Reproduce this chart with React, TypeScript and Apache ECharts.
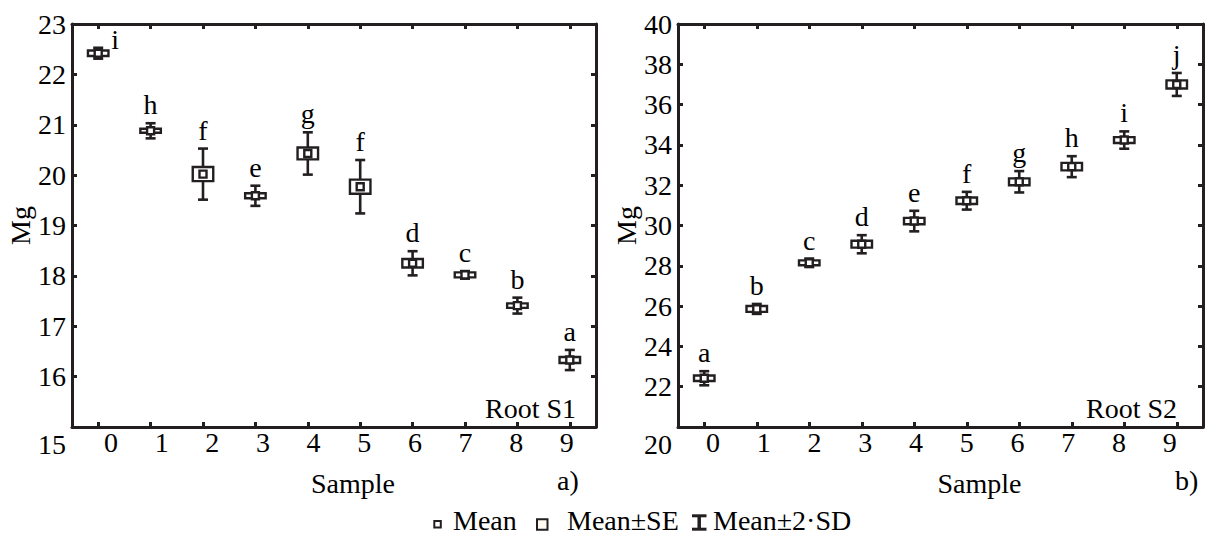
import React, { useEffect, useRef } from 'react';
import * as echarts from 'echarts';

// ---------- data ----------
const SAMPLES = ['0', '1', '2', '3', '4', '5', '6', '7', '8', '9'];

// Root S1
const S1_MEAN = [22.42, 20.88, 20.02, 19.59, 20.43, 19.77, 18.25, 18.02, 17.41, 16.33];
const S1_SE = [0.055, 0.04, 0.14, 0.05, 0.118, 0.14, 0.084, 0.05, 0.045, 0.06];
const S1_SD2 = [0.108, 0.15, 0.507, 0.2, 0.42, 0.53, 0.24, 0.075, 0.158, 0.2];
const S1_LETTERS = ['i', 'h', 'f', 'e', 'g', 'f', 'd', 'c', 'b', 'a'];
const S1_Y_MIN = 15;
const S1_Y_MAX = 23;
const S1_Y_STEP = 1;

// Root S2
const S2_MEAN = [22.42, 25.86, 28.15, 29.07, 30.22, 31.23, 32.17, 32.92, 34.24, 37.0];
const S2_SE = [0.136, 0.146, 0.12, 0.17, 0.16, 0.16, 0.17, 0.186, 0.146, 0.2];
const S2_SD2 = [0.35, 0.246, 0.21, 0.45, 0.51, 0.44, 0.53, 0.52, 0.43, 0.57];
const S2_LETTERS = ['a', 'b', 'c', 'd', 'e', 'f', 'g', 'h', 'i', 'j'];
const S2_Y_MIN = 20;
const S2_Y_MAX = 40;
const S2_Y_STEP = 2;

// ---------- style ----------
const FONT = '"Liberation Serif", "Times New Roman", serif';
const FS = 28;
const INK = '#231f20';
const TXT = '#000000';

function makeRender(letters: string[]) {
  return (params: any, api: any) => {
    const i = api.value(0) as number;
    const m = api.value(1) as number;
    const s = api.value(2) as number;
    const d = api.value(3) as number;
    const c = api.coord([i, m]);
    const cx = c[0];
    const cy = c[1];
    const yTop = api.coord([i, m + d])[1];
    const yBot = api.coord([i, m - d])[1];
    const seTop = api.coord([i, m + s])[1];
    const seBot = api.coord([i, m - s])[1];
    const gridTop = params.coordSys.y;
    const ls = { stroke: INK, lineWidth: 2.6 };
    const bw = 20.5;
    const cw = 10;
    const ms = 7;
    const above = yTop - 36 > gridTop;
    return {
      type: 'group',
      children: [
        { type: 'line', shape: { x1: cx, y1: yTop, x2: cx, y2: yBot }, style: ls },
        { type: 'line', shape: { x1: cx - cw / 2, y1: yTop, x2: cx + cw / 2, y2: yTop }, style: ls },
        { type: 'line', shape: { x1: cx - cw / 2, y1: yBot, x2: cx + cw / 2, y2: yBot }, style: ls },
        {
          type: 'rect',
          shape: { x: cx - bw / 2, y: seTop, width: bw, height: Math.max(seBot - seTop, 0.5) },
          style: { fill: '#ffffff', stroke: INK, lineWidth: 2.4 },
        },
        {
          type: 'rect',
          shape: { x: cx - ms / 2, y: cy - ms / 2, width: ms, height: ms },
          style: { fill: '#ffffff', stroke: INK, lineWidth: 2.4 },
        },
        {
          type: 'text',
          x: above ? cx : cx + 13,
          y: above ? yTop - 4.5 : yTop + 5.5,
          style: {
            text: letters[i],
            fontFamily: FONT,
            fontSize: FS,
            fill: TXT,
            align: above ? 'center' : 'left',
            verticalAlign: 'bottom',
          },
        },
      ],
    };
  };
}

function buildData(mean: number[], se: number[], sd2: number[]) {
  return mean.map((v, i) => [i, v, se[i], sd2[i]]);
}

const axisLineStyle = { lineStyle: { color: INK, width: 3 } };
const tickStyle = { show: true, inside: true, length: 5, lineStyle: { color: INK, width: 3 } };
const labelText = { fontFamily: FONT, fontSize: FS, color: TXT };

// the sample labels sit on a slightly narrower pitch than the ticks
function driftRich(start: number, perStep: number) {
  const rich: any = {};
  SAMPLES.forEach((_, k) => {
    const d = start + perStep * k;
    rich['s' + k] = {
      fontFamily: FONT,
      fontSize: FS,
      color: TXT,
      padding: d >= 0 ? [0, 0, 0, 2 * d] : [0, -2 * d, 0, 0],
    };
  });
  return rich;
}

function xAxes(gridIndex: number, driftStart: number, nameShift: number) {
  return [
    {
      type: 'category',
      gridIndex,
      position: 'bottom',
      data: SAMPLES,
      boundaryGap: true,
      axisLine: axisLineStyle,
      axisTick: { ...tickStyle, alignWithLabel: true, interval: 0 },
      axisLabel: {
        ...labelText,
        margin: 1,
        interval: 0,
        hideOverlap: false,
        formatter: (v: string, idx: number) => `{s${idx}|${v}}`,
        rich: driftRich(driftStart, -1.75),
      },
      splitLine: { show: false },
      name: 'Sample',
      nameLocation: 'middle',
      nameGap: 42,
      nameTextStyle: { ...labelText, padding: [0, 0, 0, nameShift * 2] },
    },
    {
      type: 'category',
      gridIndex,
      position: 'top',
      data: SAMPLES,
      boundaryGap: true,
      axisLine: axisLineStyle,
      axisTick: { ...tickStyle, alignWithLabel: true, interval: 0 },
      axisLabel: { show: false, interval: 0 },
      splitLine: { show: false },
    },
  ];
}

function yAxes(gridIndex: number, min: number, max: number, step: number) {
  return [
    {
      type: 'value',
      gridIndex,
      position: 'left',
      min,
      max,
      interval: step,
      axisLine: { show: true, ...axisLineStyle },
      axisTick: tickStyle,
      splitLine: { show: false },
      axisLabel: {
        ...labelText,
        margin: 6,
        showMinLabel: true,
        showMaxLabel: true,
        formatter: (v: number) => (v === min ? `{low|${v}}` : `${v}`),
        rich: { low: { fontFamily: FONT, fontSize: FS, color: TXT, padding: [34, 0, 0, 0] } },
      },
      name: 'Mg',
      nameLocation: 'middle',
      nameGap: 37,
      nameTextStyle: labelText,
    },
    {
      type: 'value',
      gridIndex,
      position: 'right',
      min,
      max,
      interval: step,
      axisLine: { show: true, ...axisLineStyle },
      axisTick: tickStyle,
      splitLine: { show: false },
      axisLabel: { show: false },
    },
  ];
}

function legendGraphics() {
  const t = (text: string, x: number, y: number, align = 'left') => ({
    type: 'text',
    x,
    y,
    style: {
      text,
      fontFamily: FONT,
      fontSize: FS,
      lineHeight: 22,
      fill: TXT,
      align,
      verticalAlign: 'middle',
    },
  });
  return [
    t('Root S1', 576, 408.5, 'right'),
    t('Root S2', 1177, 408.5, 'right'),
    t('a)', 557, 480.5),
    t('b)', 1175, 480.5),
    {
      type: 'rect',
      shape: { x: 434.3, y: 521, width: 6.5, height: 6.5 },
      style: { fill: '#ffffff', stroke: INK, lineWidth: 2 },
    },
    t('Mean', 453, 520.5),
    {
      type: 'rect',
      shape: { x: 537, y: 519.3, width: 10.5, height: 10.5 },
      style: { fill: '#fffcef', stroke: INK, lineWidth: 2 },
    },
    t('Mean±SE', 567, 520.5),
    { type: 'line', shape: { x1: 692, y1: 515.8, x2: 706.5, y2: 515.8 }, style: { stroke: INK, lineWidth: 3 } },
    { type: 'line', shape: { x1: 692, y1: 529.2, x2: 706.5, y2: 529.2 }, style: { stroke: INK, lineWidth: 3 } },
    { type: 'line', shape: { x1: 699.2, y1: 515, x2: 699.2, y2: 530 }, style: { stroke: INK, lineWidth: 3.5 } },
    t('Mean±2·SD', 713, 520.5),
  ];
}

export default function App() {
  const ref = useRef<HTMLDivElement>(null);
  useEffect(() => {
    if (!ref.current) return;
    const chart = echarts.init(ref.current, undefined, { renderer: 'svg' });
    const option: any = {
      animation: false,
      backgroundColor: '#ffffff',
      grid: [
        { left: 72, top: 24, width: 524, height: 403 },
        { left: 678, top: 24, width: 525, height: 403 },
      ],
      xAxis: [...xAxes(0, 12.8, 19), ...xAxes(1, 8.7, 39)],
      yAxis: [...yAxes(0, S1_Y_MIN, S1_Y_MAX, S1_Y_STEP), ...yAxes(1, S2_Y_MIN, S2_Y_MAX, S2_Y_STEP)],
      series: [
        {
          type: 'custom',
          name: 'Root S1',
          xAxisIndex: 0,
          yAxisIndex: 0,
          data: buildData(S1_MEAN, S1_SE, S1_SD2),
          encode: { x: 0, y: 1 },
          renderItem: makeRender(S1_LETTERS),
          clip: false,
        },
        {
          type: 'custom',
          name: 'Root S2',
          xAxisIndex: 2,
          yAxisIndex: 2,
          data: buildData(S2_MEAN, S2_SE, S2_SD2),
          encode: { x: 0, y: 1 },
          renderItem: makeRender(S2_LETTERS),
          clip: false,
        },
      ],
      graphic: legendGraphics(),
    };
    chart.setOption(option);
    return () => chart.dispose();
  }, []);
  return (
    <div
      ref={ref}
      style={{ position: 'absolute', left: 0, top: 0, width: 1221, height: 535, background: '#fff' }}
    />
  );
}
